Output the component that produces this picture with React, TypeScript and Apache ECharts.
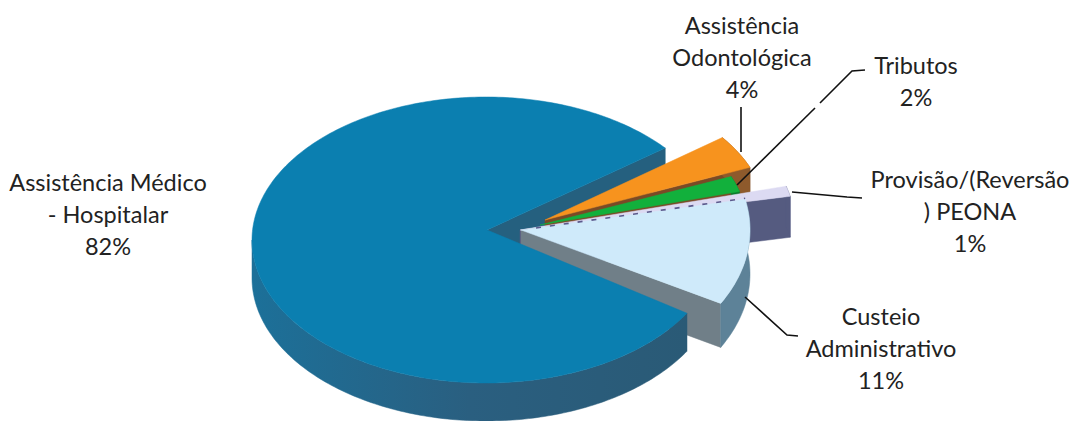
import React, { useEffect, useRef } from "react";
import * as echarts from "echarts";

const categories = ["Assistência Médico - Hospitalar", "Assistência Odontológica", "Tributos", "Provisão/(Reversão ) PEONA", "Custeio Administrativo"];
const shares = [82, 4, 2, 1, 11];
const labelLines = [
  ["Assistência Médico", "- Hospitalar"],
  ["Assistência", "Odontológica"],
  ["Tributos"],
  ["Provisão/(Reversão", ") PEONA"],
  ["Custeio", "Administrativo"],
];

const START_ANGLE = 37;
// per-slice picture geometry (ellipse centre, apex, radii, angle trim, depth)
const layout = [
  { cx: 486, cy: 240, ax: 487, ay: 230, rx: 234, ry: 143, trimA: 3, trimB: 3, depth: 38 },
  { cx: 545, cy: 220, ax: 545, ay: 220, rx: 222, ry: 137, trimA: 0, trimB: 0, depth: 38 },
  { cx: 540, cy: 225, ax: 540, ay: 225, rx: 207, ry: 126, trimA: 0, trimB: 0, depth: 30 },
  { cx: 520, cy: 230, ax: 520, ay: 230, rx: 276, ry: 165, trimA: 0, trimB: 0, depth: 41 },
  { cx: 521, cy: 230, ax: 521, ay: 230, rx: 229, ry: 150, trimA: 0, trimB: 1.5, depth: 44 },
];
const topColors = ["#0b7fb0", "#f7931e", "#12b03c", "#dcdaf2", "#cfeafa"];
const wallColors = ["#27648a", "#8e5a2c", "#0c7a2c", "#555b80", "#5d8298"];
const cutColors = ["#25607f", "#7a4a26", "#0c7a2c", "#555b80", "#707f88"];
const labelPos = [[108, 214], [742, 57], [916, 81], [970, 211], [881, 348]];
const leaders = [
  [[0, 0]],
  [[741, 107], [741, 152]],
  [[737, 185], [815, 108]],
  [[792, 192], [847, 197], [862, 198]],
  [[745, 297], [787, 335], [798, 336]],
];
const leaderTail = [[820, 103], [852, 71], [865, 70]];

const total = shares.reduce((a, b) => a + b, 0);
// slice angles run clockwise on screen, orange first, blue last
const drawOrder = [1, 2, 3, 4, 0];
const angles: number[][] = [];
let cursor = START_ANGLE;
drawOrder.forEach((i) => {
  const sweep = (shares[i] / total) * 360;
  const l = layout[i];
  angles[i] = i === 0 ? [cursor - l.trimA, cursor - sweep + l.trimB] : [cursor + l.trimA, cursor - sweep - l.trimB];
  cursor -= sweep;
});

const pt = (i: number, deg: number, dy = 0) => {
  const l = layout[i];
  const r = (deg * Math.PI) / 180;
  return [l.cx + l.rx * Math.cos(r), l.cy - l.ry * Math.sin(r) + dy];
};
const arc = (i: number, a: number, b: number, dy = 0) => {
  const n = Math.max(2, Math.ceil(Math.abs(a - b)));
  const out: number[][] = [];
  for (let k = 0; k <= n; k++) out.push(pt(i, a + ((b - a) * k) / n, dy));
  return out;
};

const blueWall = new echarts.graphic.LinearGradient(0, 0, 1, 0, [
  { offset: 0, color: "#1c7099" },
  { offset: 0.5, color: "#2a5f80" },
  { offset: 1, color: "#2a5a76" },
]);

const poly = (points: number[][], fill: any) => ({ type: "polygon", shape: { points }, style: { fill, stroke: fill, lineWidth: 0.5 } });

const top = (i: number) => {
  const l = layout[i];
  return poly([[l.ax, l.ay], ...arc(i, angles[i][0], angles[i][1])], topColors[i]);
};
const outerWall = (i: number) => {
  const d = layout[i].depth;
  const to = angles[i][0];
  const from = Math.max(angles[i][1], -180);
  return poly([...arc(i, to, from), ...arc(i, from, to, d)], i === 0 ? blueWall : wallColors[i]);
};
const cutFace = (i: number, deg: number) => {
  const l = layout[i];
  const d = l.depth;
  const p = pt(i, deg);
  return poly([[l.ax, l.ay], p, [p[0], p[1] + d], [l.ax, l.ay + d]], cutColors[i]);
};
const leaderLine = (points: number[][]) => ({
  type: "polyline",
  shape: { points },
  style: { stroke: "#111", lineWidth: 1.6, fill: "none" },
});

type Op = () => any;
const ops: Op[] = [
  () => cutFace(0, angles[0][1]),
  () => cutFace(1, angles[1][1]),
  () => outerWall(1),
  () => outerWall(2),
  () => cutFace(3, angles[3][1]),
  () => outerWall(3),
  () => cutFace(4, angles[4][1]),
  () => outerWall(4),
  () => outerWall(0),
  () => top(0),
  () => top(1),
  () => top(2),
  () => top(3),
  () => top(4),
  () => {
    const l = layout[4];
    const p = pt(4, angles[4][0]);
    return {
      type: "line",
      shape: { x1: l.ax + 15, y1: l.ay - 2, x2: p[0], y2: p[1] - 1 },
      style: { stroke: "#5b5a8c", lineWidth: 1.6, lineDash: [5, 9], fill: "none" },
    };
  },
  ...[1, 2, 3, 4].map((i) => () => leaderLine(leaders[i])),
  () => leaderLine(leaderTail),
  ...shares.map((v, i) => () => ({
    type: "text",
    style: {
      x: labelPos[i][0],
      y: labelPos[i][1],
      text: [...labelLines[i], `${v}%`].join("\n"),
      align: "center",
      verticalAlign: "middle",
      lineHeight: 32,
      fontFamily: "Lato",
      fontSize: 23.5,
      fill: "#222",
    },
  })),
];

export default function App() {
  const ref = useRef<HTMLDivElement>(null);
  useEffect(() => {
    const chart = echarts.init(ref.current!, undefined, { renderer: "svg" });
    chart.setOption({
      animation: false,
      backgroundColor: "#fff",
      series: [
        {
          type: "custom",
          name: categories.join(", "),
          coordinateSystem: "none",
          silent: true,
          data: ops.map((_, i) => i),
          renderItem: (p: any) => ops[p.dataIndex](),
        },
      ],
    });
    return () => chart.dispose();
  }, []);
  return <div ref={ref} style={{ position: "fixed", left: 0, top: 0, width: 1072, height: 421 }} />;
}
